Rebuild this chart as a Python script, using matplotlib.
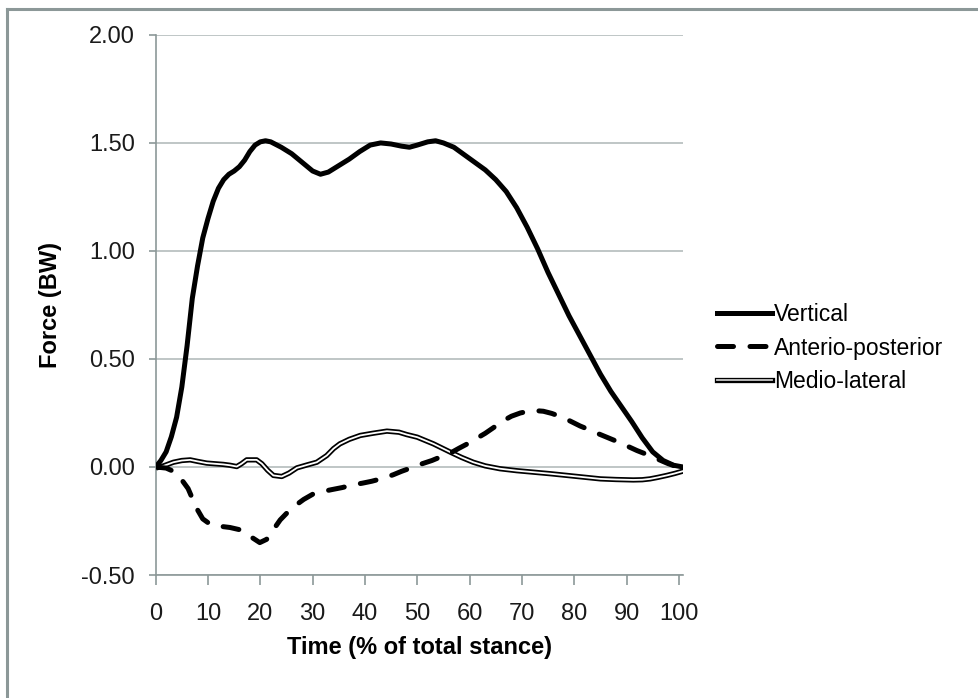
import matplotlib
matplotlib.use("Agg")
import matplotlib.pyplot as plt
from matplotlib.lines import Line2D

plt.rcParams["font.family"] = ["Liberation Sans", "DejaVu Sans"]

# vertical ground reaction force
t_vert = [0, 1, 2, 3, 4, 5, 6, 7, 8, 9, 10, 11, 12, 13, 14, 15, 16, 17, 18, 19,
          20, 21, 22, 24, 26, 28, 30, 31.5, 33, 35, 37, 39, 41, 43, 45, 47, 48.5,
          50, 52, 53.5, 55, 57, 59, 61, 63, 65, 67, 69, 71, 73, 75, 77, 79, 81,
          83, 85, 87, 89, 91, 93, 95, 97, 99, 100.8]
vertical = [0.0, 0.03, 0.07, 0.14, 0.23, 0.37, 0.56, 0.78, 0.93, 1.06, 1.15, 1.23,
            1.29, 1.33, 1.355, 1.37, 1.39, 1.42, 1.46, 1.49, 1.505, 1.51, 1.505,
            1.48, 1.45, 1.41, 1.37, 1.355, 1.365, 1.395, 1.425, 1.46, 1.49, 1.50,
            1.495, 1.485, 1.48, 1.49, 1.505, 1.51, 1.50, 1.48, 1.445, 1.41, 1.375,
            1.33, 1.275, 1.20, 1.11, 1.01, 0.90, 0.80, 0.70, 0.61, 0.52, 0.43, 0.35,
            0.28, 0.21, 0.135, 0.07, 0.03, 0.008, 0.0]

# anterio-posterior
t_ap = [0, 2, 3.4, 5, 6.2, 7.8, 9, 10.7, 12.5, 14.2, 16, 18, 19.9, 21.2, 22.5,
        23.8, 25.2, 26.6, 28.3, 30.1, 32, 33.6, 35.7, 37.8, 39.5, 41.3, 43.5,
        45.4, 47, 48.6, 50.8, 52.8, 54.5, 56.3, 58, 59.8, 61.4, 63, 64.8, 66.5,
        68, 69.7, 72, 74.1, 75.7, 77.3, 79.2, 81.1, 82.9, 84.6, 86.5, 88.5, 90.2,
        92, 94, 95.8, 98, 100.8]
anterio_posterior = [0.0, -0.005, -0.02, -0.06, -0.10, -0.19, -0.24, -0.27, -0.275,
                     -0.28, -0.29, -0.32, -0.35, -0.335, -0.29, -0.245, -0.21, -0.18,
                     -0.15, -0.125, -0.113, -0.105, -0.095, -0.082, -0.075, -0.066,
                     -0.052, -0.036, -0.02, -0.006, 0.014, 0.03, 0.047, 0.064, 0.087,
                     0.11, 0.133, 0.156, 0.186, 0.215, 0.235, 0.25, 0.262, 0.258,
                     0.248, 0.234, 0.213, 0.19, 0.172, 0.154, 0.135, 0.115, 0.096,
                     0.076, 0.057, 0.038, 0.015, -0.008]

# medio-lateral
t_ml = [0, 1.5, 3.4, 5, 6.6, 8, 9.75, 11.3, 12.9, 14.2, 15.5, 16.4, 17.4, 19.3,
        20.3, 21.4, 22.5, 24.1, 25.5, 27, 29, 30.8, 32.7, 34, 35.2, 37, 39.1, 41.5,
        44.2, 46.5, 48, 50, 51.8, 53.1, 54.7, 56.3, 58.5, 60.7, 63, 65.8, 69, 72.2,
        75.4, 78.6, 81.8, 85, 88, 91.3, 93, 94.5, 96, 97.7, 99.2, 100.8]
medio_lateral = [-0.005, 0.005, 0.022, 0.03, 0.033, 0.026, 0.018, 0.015, 0.012,
                 0.008, 0.002, 0.015, 0.033, 0.033, 0.015, -0.015, -0.039, -0.044,
                 -0.028, -0.004, 0.01, 0.022, 0.053, 0.085, 0.107, 0.128, 0.146,
                 0.156, 0.166, 0.161, 0.150, 0.138, 0.12, 0.107, 0.088, 0.069, 0.044,
                 0.022, 0.005, -0.008, -0.017, -0.024, -0.031, -0.039, -0.047,
                 -0.055, -0.058, -0.06, -0.059, -0.055, -0.048, -0.039, -0.03, -0.019]

x_ticks = list(range(0, 101, 10))
y_ticks = [-0.5, 0.0, 0.5, 1.0, 1.5, 2.0]

grey = "#8c9898"
grid_grey = "#b4bcbc"

fig = plt.figure(figsize=(9.79, 6.98), dpi=100)
ax = fig.add_axes([0.159, 0.1762, 0.5387, 0.7738])

ax.plot(t_vert, vertical, color="black", lw=3.6, solid_capstyle="round",
        solid_joinstyle="round", zorder=4)
ax.plot(t_ap, anterio_posterior, color="black", lw=3.6, dashes=(3.2, 3.3),
        dash_capstyle="round", zorder=3)
ax.plot(t_ml, medio_lateral, color="black", lw=3.8, solid_joinstyle="round", zorder=2)
ax.plot(t_ml, medio_lateral, color="white", lw=1.3, solid_joinstyle="round", zorder=2)

ax.set_xlim(0, 100.8)
ax.set_ylim(-0.5, 2.0)
ax.set_xticks(x_ticks)
ax.set_yticks(y_ticks)
ax.set_yticklabels([f"{v:.2f}" for v in y_ticks])
ax.yaxis.grid(True, color=grid_grey, lw=1.2)
ax.set_axisbelow(True)

for side in ["top", "right"]:
    ax.spines[side].set_visible(False)
for side in ["left", "bottom"]:
    ax.spines[side].set_color(grey)
    ax.spines[side].set_linewidth(1.2)

ax.tick_params(axis="x", direction="out", length=7, width=1.2, color=grey,
               labelsize=17, pad=13, labelcolor="#1a1a1a")
ax.tick_params(axis="y", direction="out", length=5, width=1.2, color=grey,
               labelsize=17, pad=10, labelcolor="#1a1a1a")

ax.set_xlabel("Time (% of total stance)", fontsize=17, fontweight="bold", labelpad=8)
ax.set_ylabel("Force (BW)", fontsize=17, fontweight="bold", labelpad=14)

h_vert = Line2D([], [], color="black", lw=3.6)
h_ap = Line2D([], [], color="black", lw=3.6, dashes=(3.2, 3.3), dash_capstyle="round")
h_ml_out = Line2D([], [], color="black", lw=3.8)
h_ml_in = Line2D([], [], color="#c8c8c8", lw=1.3)
fig.legend([h_vert, h_ap, (h_ml_out, h_ml_in)],
           ["Vertical", "Anterio-posterior", "Medio-lateral"],
           loc="center left", bbox_to_anchor=(717 / 979, 1 - 348 / 698),
           frameon=False, fontsize=16.5, handlelength=2.4, handletextpad=0.1,
           labelspacing=0.45, borderpad=0, borderaxespad=0)

# outer chart border (only top and left edges visible)
fig.add_artist(Line2D([7 / 979, 7 / 979], [0, 1 - 9 / 698], color=grey, lw=2.2,
                      transform=fig.transFigure))
fig.add_artist(Line2D([7 / 979, 1], [1 - 9 / 698, 1 - 9 / 698], color=grey, lw=2.2,
                      transform=fig.transFigure))

fig.savefig("out.png", dpi=100)
